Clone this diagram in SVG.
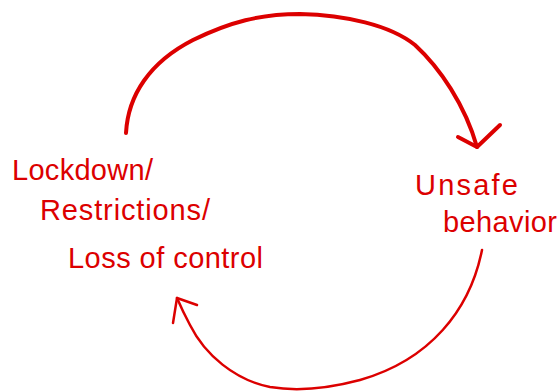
<svg xmlns="http://www.w3.org/2000/svg" width="559" height="392" viewBox="0 0 559 392">
<style>
.t{font-family:"Liberation Sans",Arial,sans-serif;font-size:29px;fill:#dc0000;}
.c{fill:none;stroke:#dc0000;stroke-linecap:round;stroke-linejoin:round;}
</style>
<rect width="559" height="392" fill="#ffffff"/>
<g id="connectors">
<path class="c" stroke-width="4" d="M126,133 C128,95 150,62 193,40 C230,22 260,14 300,14 C345,15 390,25 415,45 C440,68 465,105 477,147"/>
<path class="c" stroke-width="4" d="M458,137 L477,147 L500,125"/>
<path class="c" stroke-width="2.5" d="M482,250 C470,310 430,360 360,380 C330,388 300,392 270,387 C235,380 205,355 190,325 C183,312 180,305 177,298"/>
<path class="c" stroke-width="2.5" d="M173,323 L177,298 L197,305"/>
</g>
<g id="node-lockdown">
<text class="t" x="12" y="180" textLength="141" lengthAdjust="spacing">Lockdown/</text>
<text class="t" x="40" y="220" textLength="170" lengthAdjust="spacing">Restrictions/</text>
<text class="t" x="68" y="268" textLength="195" lengthAdjust="spacing">Loss of control</text>
</g>
<g id="node-unsafe">
<text class="t" x="415" y="195" textLength="103" lengthAdjust="spacing">Unsafe</text>
<text class="t" x="443" y="232" textLength="114" lengthAdjust="spacing">behavior</text>
</g>
</svg>
